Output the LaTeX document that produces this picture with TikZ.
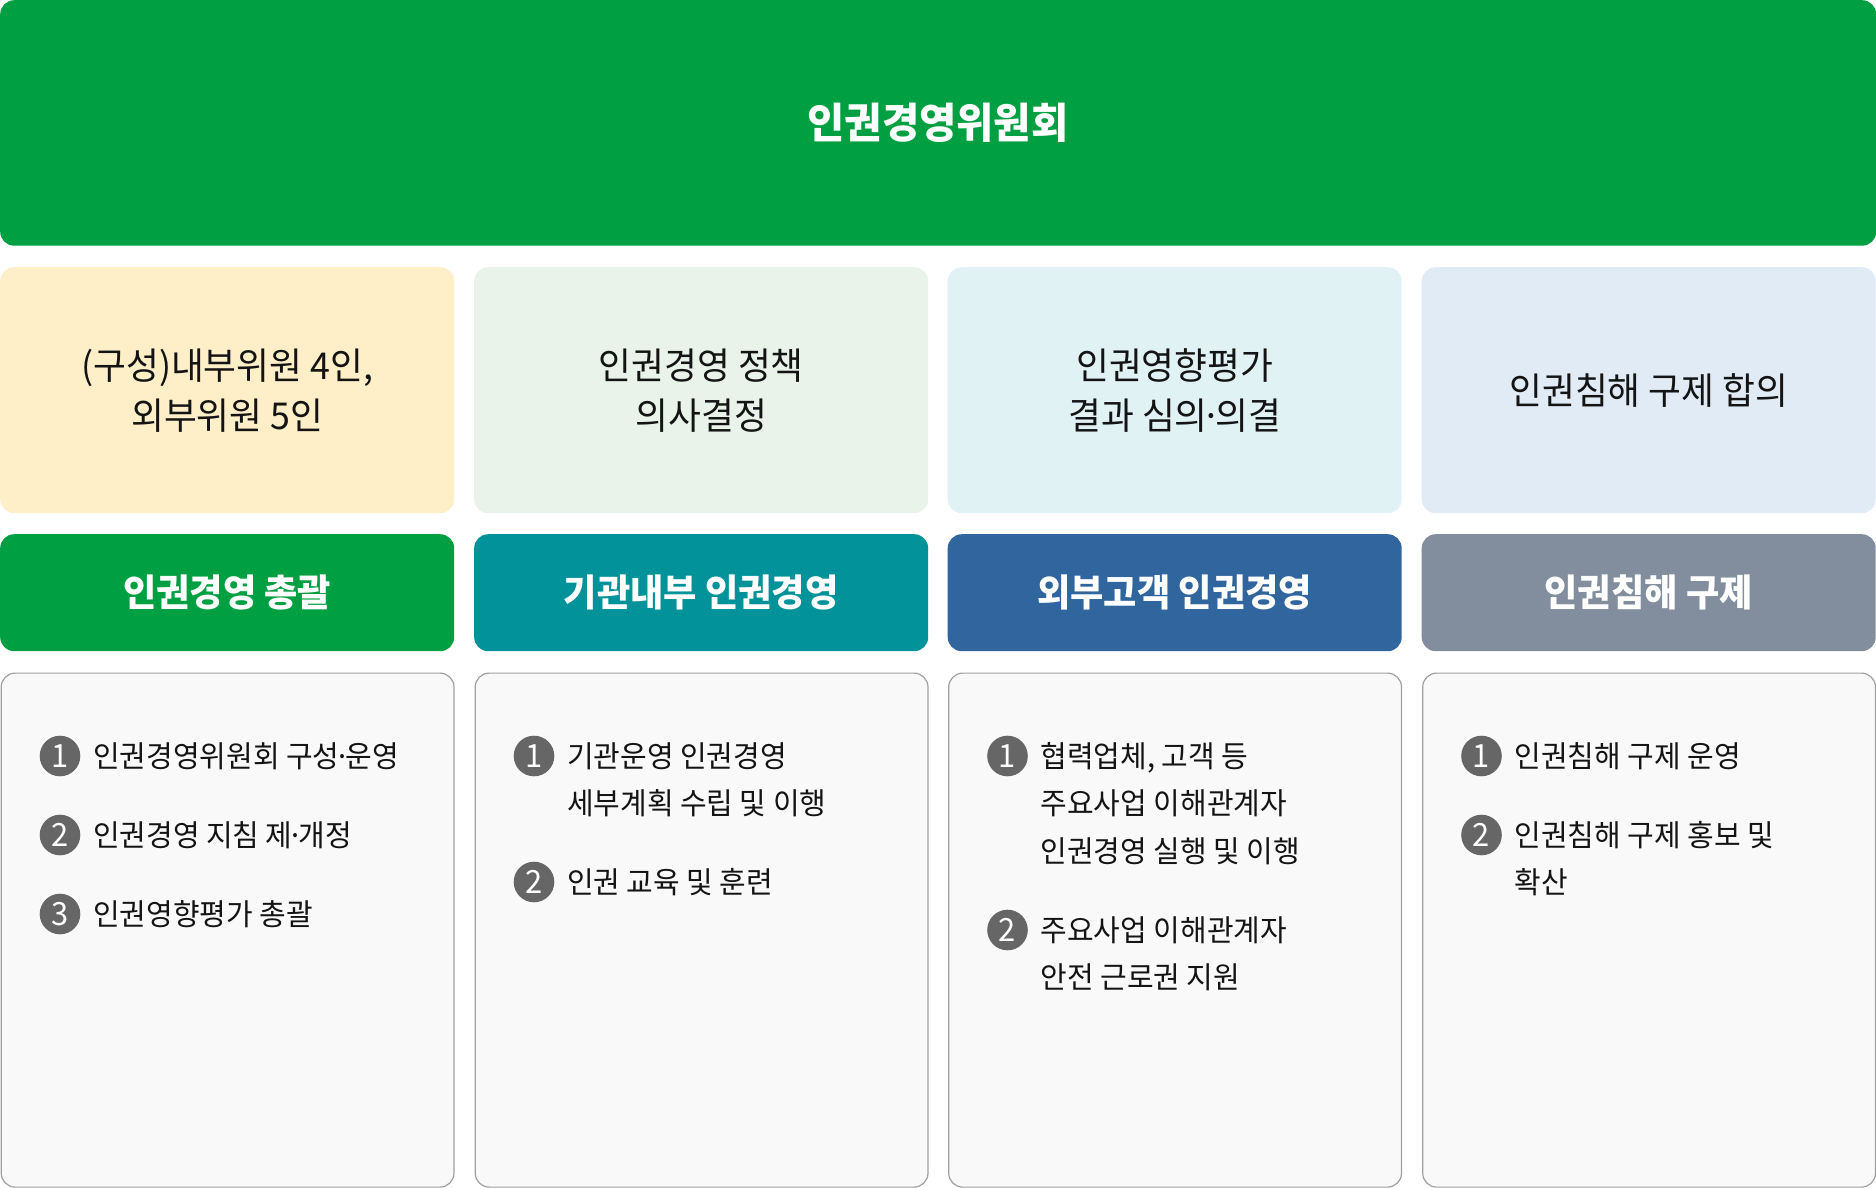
\documentclass[tikz,border=0pt]{standalone}
\usepackage{fontspec}
\setmainfont{Noto Sans CJK KR}[FakeStretch=0.965]
\newcommand{\mdot}{\kern-0.17em·\kern-0.17em}
\definecolor{topgreen}{RGB}{0,160,66}
\definecolor{cream}{RGB}{255,239,201}
\definecolor{lgreen}{RGB}{233,243,234}
\definecolor{lcyan}{RGB}{225,242,245}
\definecolor{lblue}{RGB}{224,235,246}
\definecolor{hgreen}{RGB}{0,160,66}
\definecolor{hteal}{RGB}{2,146,153}
\definecolor{hblue}{RGB}{48,101,158}
\definecolor{hgray}{RGB}{130,142,158}
\definecolor{panelfill}{RGB}{249,249,249}
\definecolor{panelline}{RGB}{160,160,160}
\definecolor{numgray}{RGB}{102,102,102}
\definecolor{txt}{RGB}{20,20,20}
\begin{document}
\begin{tikzpicture}[x=1pt,y=-1pt,
  box/.style={rectangle,rounded corners=14pt,anchor=north west,inner sep=0pt,minimum width=454pt},
  topbox/.style={box,fill=topgreen,minimum width=1876pt,minimum height=245.5pt},
  descbox/.style={box,minimum height=246pt,text=txt,align=center,font=\fontsize{37}{50}\selectfont},
  headbox/.style={box,minimum height=117pt,text=white,font=\fontsize{37.5}{45}\selectfont\bfseries},
  panel/.style={box,fill=panelfill,draw=panelline,line width=1.2pt,minimum width=452.8pt,minimum height=514pt},
  num/.style={circle,fill=numgray,minimum size=40.6pt,inner sep=0pt,text=white,font=\fontsize{32}{32}\selectfont},
  itemtxt/.style={anchor=base west,inner sep=0pt,text=txt,font=\fontsize{30}{47}\selectfont}
]
\useasboundingbox (0,0) rectangle (1876,1188);
% top
\node[topbox] (top) at (0,0) {};
\node[text=white,font=\fontsize{42}{50}\selectfont\bfseries] (toptxt) at (938,122.5) {인권경영위원회};
% row 2
\node[descbox,fill=cream] (d1) at (0,267) {(구성)내부위원 4인,\\외부위원 5인};
\node[descbox,fill=lgreen] (d2) at (474,267) {인권경영 정책\\의사결정};
\node[descbox,fill=lcyan] (d3) at (947.5,267) {인권영향평가\\결과 심의\mdot 의결};
\node[descbox,fill=lblue] (d4) at (1421.5,267) {인권침해 구제 합의};
% row 3
\node[headbox,fill=hgreen] (h1) at (0,534) {인권경영 총괄};
\node[headbox,fill=hteal] (h2) at (474,534) {기관내부 인권경영};
\node[headbox,fill=hblue] (h3) at (947.5,534) {외부고객 인권경영};
\node[headbox,fill=hgray] (h4) at (1421.5,534) {인권침해 구제};
% row 4 panels
\node[panel] (p1) at (0.6,672.5) {};
\node[panel] (p2) at (474.6,672.5) {};
\node[panel] (p3) at (948.1,672.5) {};
\node[panel] (p4) at (1422.1,672.5) {};
% column 1
\node[num] (c1n1) at (60,756) {1};
\node[itemtxt] (c1t1) at (93,767) {인권경영위원회 구성\mdot 운영};
\node[num] (c1n2) at (60,835) {2};
\node[itemtxt] (c1t2) at (93,846) {인권경영 지침 제\mdot 개정};
\node[num] (c1n3) at (60,914) {3};
\node[itemtxt] (c1t3) at (93,925) {인권영향평가 총괄};
% column 2
\node[num] (c2n1) at (534,756) {1};
\node[itemtxt] (c2t1a) at (567,767) {기관운영 인권경영};
\node[itemtxt] (c2t1b) at (567,814) {세부계획 수립 및 이행};
\node[num] (c2n2) at (534,882) {2};
\node[itemtxt] (c2t2) at (567,893) {인권 교육 및 훈련};
% column 3
\node[num] (c3n1) at (1007.5,756) {1};
\node[itemtxt] (c3t1a) at (1040.5,767) {협력업체, 고객 등};
\node[itemtxt] (c3t1b) at (1040.5,814) {주요사업 이해관계자};
\node[itemtxt] (c3t1c) at (1040.5,862) {인권경영 실행 및 이행};
\node[num] (c3n2) at (1007.5,930) {2};
\node[itemtxt] (c3t2a) at (1040.5,941) {주요사업 이해관계자};
\node[itemtxt] (c3t2b) at (1040.5,988) {안전 근로권 지원};
% column 4
\node[num] (c4n1) at (1481.5,756) {1};
\node[itemtxt] (c4t1) at (1514.5,767) {인권침해 구제 운영};
\node[num] (c4n2) at (1481.5,835) {2};
\node[itemtxt] (c4t2a) at (1514.5,846) {인권침해 구제 홍보 및};
\node[itemtxt] (c4t2b) at (1514.5,893) {확산};
\end{tikzpicture}
\end{document}
